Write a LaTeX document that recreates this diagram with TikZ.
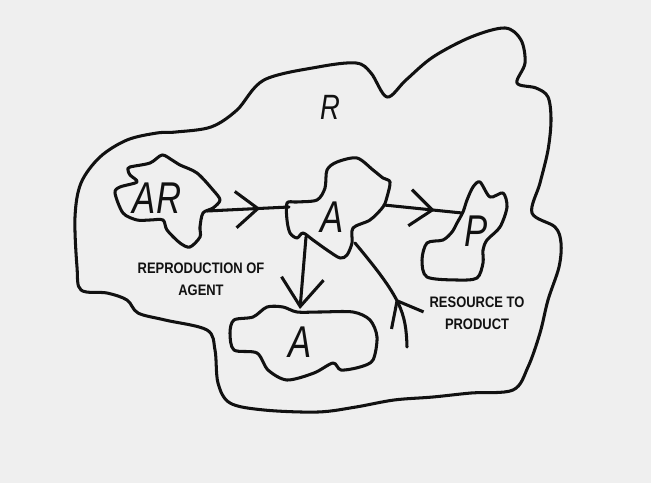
\documentclass[tikz,border=0pt]{standalone}
\usepackage{fontspec}
\usetikzlibrary{arrows.meta,decorations.markings}
\newfontfamily\labelfont[FakeStretch=0.85]{Liberation Sans}
\newfontfamily\handfont[FakeStretch=0.78]{Liberation Sans}
\definecolor{Paper}{HTML}{EFEFEF}
\definecolor{Ink}{HTML}{111111}
\tikzset{
  blob/.style={draw=Ink,line width=2.6pt,line join=round},
  letter/.style={inner sep=0pt,font=\handfont\fontsize{38}{38}\selectfont\slshape,text=Ink},
  caption/.style={align=center,inner sep=0pt,text=Ink,
    font=\labelfont\bfseries\fontsize{13}{18.5}\selectfont},
  chevron/.tip={Straight Barb[length=19pt,width=31pt,line width=2.6pt]},
  bigchevron/.tip={Straight Barb[length=24pt,width=36pt,line width=2.6pt]},
  link/.style={draw=Ink,line width=2.6pt,line cap=round},
  midarrow/.style={link,postaction={decorate},
    decoration={markings,mark=at position #1 with {\arrow{chevron}}}}
}
\begin{document}
\begin{tikzpicture}[x=0.03cm,y=-0.03cm,line cap=round,line join=round]
        \path[fill=Paper] (0,0) rectangle (651,483);
        % outer region R
        \draw[blob] plot[smooth cycle,tension=0.55] coordinates {
          (176,132) (211,127) (237,110) (264,80) (318,67) (356,63) (371,73)
          (387,97) (406,80) (433,57) (471,37) (505,28) (521,40) (525,63)
          (517,83) (536,88) (548,97) (551,120) (548,150) (540,183) (532,213)
          (555,227) (561,243) (559,267) (548,300) (540,333) (528,367)
          (513,390) (471,393) (433,397) (394,400) (356,407) (318,412)
          (264,410) (230,403) (218,383) (215,350) (207,330) (165,320)
          (138,313) (127,300) (107,293) (81,290) (77,267) (75,217) (81,183)
          (100,157) (127,140) (157,133)};
        % AR
        \draw[blob] plot[smooth cycle,tension=0.5] coordinates {
          (130,167) (150,163) (162,155) (172,160) (180,165) (197,173)
          (213,190) (220,200) (213,208) (203,213) (200,227) (200,237)
          (190,247) (180,243) (167,230) (163,220) (150,220) (137,220)
          (123,213) (115,193) (120,187) (137,182) (130,175) (128,170)};
        % A
        \draw[blob] plot[smooth cycle,tension=0.5] coordinates {
          (287,203) (297,202) (317,200) (325,188) (327,170) (337,162)
          (357,158) (373,170) (383,178) (390,182) (387,197) (383,207)
          (370,220) (353,228) (352,243) (347,255) (340,258) (327,250)
          (313,240) (303,233) (297,238) (290,233) (287,220)};
        % P
        \draw[blob] plot[smooth cycle,tension=0.5] coordinates {
          (463,212) (467,200) (473,187) (480,182) (490,197) (503,193)
          (507,207) (500,227) (487,240) (483,250) (483,263) (477,278)
          (457,280) (427,277) (422,260) (427,243) (443,240) (452,232)
          (457,223)};
        % lower A
        \draw[blob] plot[smooth cycle,tension=0.5] coordinates {
          (234,320) (253,317) (267,307) (283,307) (297,312) (320,312)
          (353,312) (370,320) (377,337) (373,360) (360,367) (341,370)
          (333,363) (314,373) (287,380) (268,370) (257,353) (234,350)
          (230,333)};
        \node[letter,font=\handfont\fontsize{30}{30}\selectfont\slshape] (r) at (330,107) {R};
        \node[letter] (ar) at (157,198) {AR};
        \node[letter] (a) at (332,217) {A};
        \node[letter] (p) at (476,231) {P};
        \node[letter] (a2) at (300,342) {A};
        \coordinate (ar-e) at (207,211);
        \coordinate (a-w) at (289,207);
        \coordinate (a-e) at (384,205);
        \coordinate (p-w) at (462,213);
        \coordinate (a-s) at (306,237);
        \coordinate (a2-n) at (300,309);
        \coordinate (res) at (407,347);
        \coordinate (a-se) at (355,243);
        \draw[midarrow=0.65] (ar-e) -- (a-w);
        \draw[midarrow=0.65] (a-e) -- (p-w);
        \draw[link,-{bigchevron}] (a-s) -- (a2-n);
        \draw[midarrow=0.42] (res) .. controls (406,312) and (401,298) .. (a-se);
        \node[caption] (repro) at (201,279) {REPRODUCTION OF\\AGENT};
        \node[caption] (resprod) at (477,313) {RESOURCE TO\\PRODUCT};
      \end{tikzpicture}
\end{document}
